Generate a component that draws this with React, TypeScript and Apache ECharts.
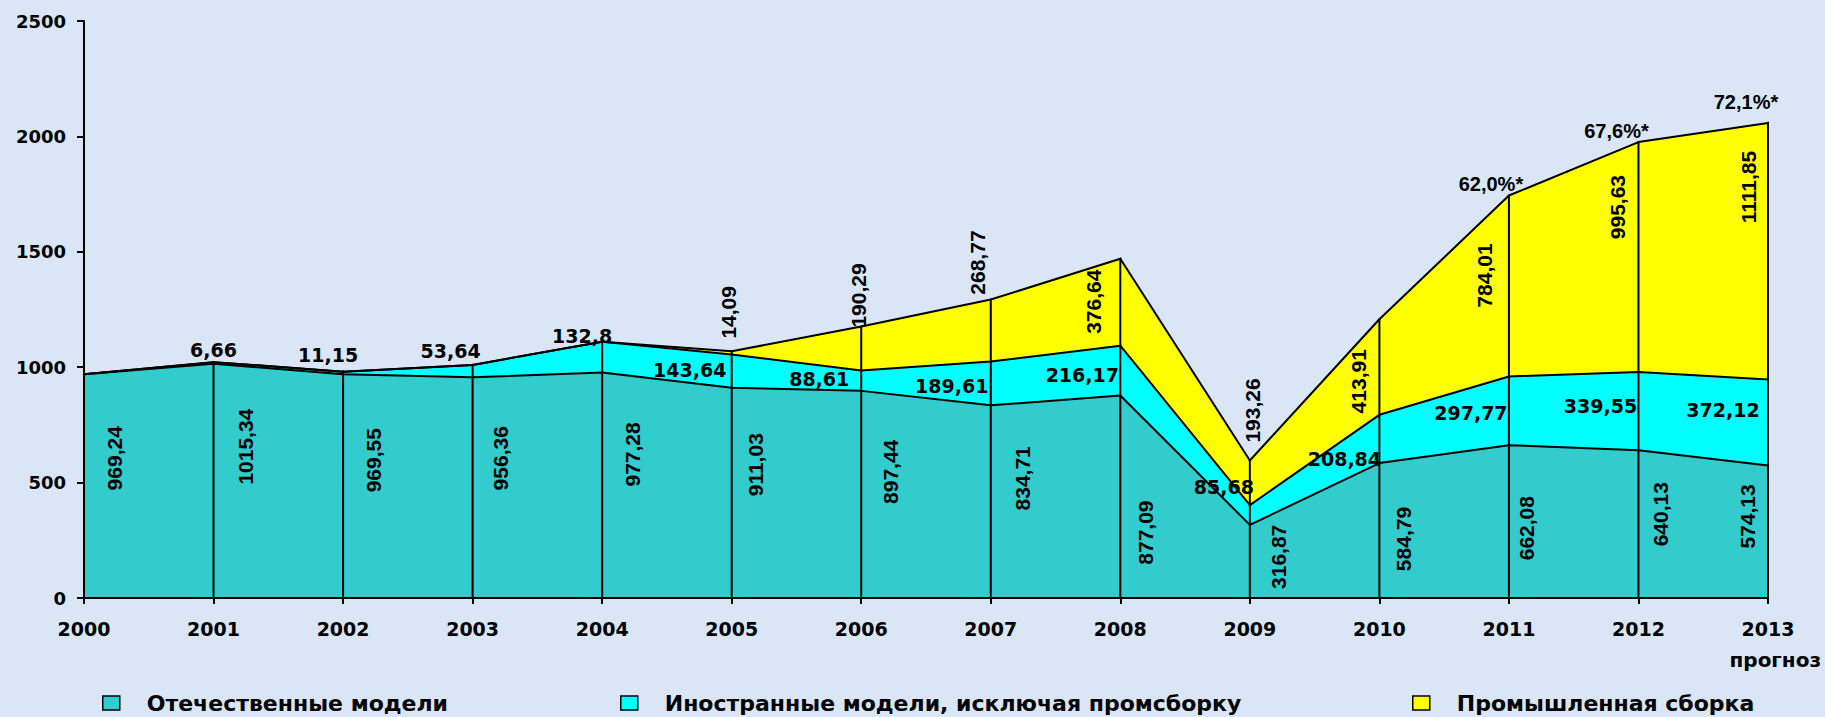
import React, { useEffect, useRef } from 'react';
import * as echarts from 'echarts';

// ---------- data ----------
const years = ['2000', '2001', '2002', '2003', '2004', '2005', '2006', '2007', '2008', '2009', '2010', '2011', '2012', '2013'];
const domestic = [969.24, 1015.34, 969.55, 956.36, 977.28, 911.03, 897.44, 834.71, 877.09, 316.87, 584.79, 662.08, 640.13, 574.13];
const foreign = [0, 6.66, 11.15, 53.64, 132.8, 143.64, 88.61, 189.61, 216.17, 85.68, 208.84, 297.77, 339.55, 372.12];
const assembly = [0, 0, 0, 0, 0, 14.09, 190.29, 268.77, 376.64, 193.26, 413.91, 784.01, 995.63, 1111.85];
const shares = ['', '', '', '', '', '', '', '', '', '', '', '62,0%*', '67,6%*', '72,1%*'];
const seriesNames = ['Отечественные модели', 'Иностранные модели, исключая промсборку', 'Промышленная сборка'];
const yMin = 0;
const yMax = 2500;
const yStep = 500;
const forecastNote = 'прогноз';

// ---------- styles / layout ----------
const fills = ['#33cccc', '#00ffff', '#ffff00'];
const legendLeft = [102, 620, 1412];
// visual label shifts in px relative to the data point [dx, dy]
const domesticShift = [[30, 84], [32, 83], [30, 86], [28, 81], [30, 82], [24, 77], [29, 81], [32, 73], [25, 137], [29, 32], [24, 76], [18, 83], [22, 64], [-21, 51]];
const foreignShift = [[0, 0], [0, -12], [-15, -17], [-22, -14], [-20, -6], [-42, 15], [-42, 9], [-39, 24], [-38, 29], [-26, -18], [-35, 44], [-38, 37], [-38, 34], [-45, 30]];
const assemblyShift = [[0, 0], [0, 0], [0, 0], [0, 0], [0, 0], [-3, -39], [-3, -31], [-13, -37], [-27, 43], [3, -50], [-21, 62], [-24, 80], [-21, 65], [-20, 64]];
const shareShift = [[0, 0], [0, 0], [0, 0], [0, 0], [0, 0], [0, 0], [0, 0], [0, 0], [0, 0], [0, 0], [0, 0], [-18, -12], [-22, -11], [-22, -21]];

const WIDE = '"DejaVu Sans", sans-serif';
const ARIAL = '"Liberation Sans", Arial, sans-serif';

const fmt = (v: number) => String(v).replace('.', ',');
// offset for labels rotated by 90deg (offset is rotated together with the text)
const rotOffset = (s: number[]) => [-s[1], s[0]];

function App() {
  const ref = useRef<HTMLDivElement>(null);

  useEffect(() => {
    document.body.style.margin = '0';
    const chart = echarts.init(ref.current!, null, { renderer: 'svg' });

    const totals = years.map((_, i) => domestic[i] + foreign[i] + assembly[i]);

    const commonLine = {
      type: 'line',
      stack: 'total',
      symbol: 'circle',
      symbolSize: 2,
      showSymbol: true,
      itemStyle: { color: '#000' },
      lineStyle: { color: '#000', width: 2 },
      silent: true,
      z: 2,
    };

    const option: any = {
      animation: false,
      backgroundColor: '#dae6f6',
      grid: { left: 84, right: 57, top: 21, bottom: 119, containLabel: false },
      xAxis: {
        type: 'category',
        data: years,
        boundaryGap: false,
        axisLine: { lineStyle: { color: '#000', width: 2 } },
        axisTick: { show: true, length: 6, lineStyle: { color: '#000', width: 2 } },
        axisLabel: { color: '#000', fontFamily: WIDE, fontWeight: 'bold', fontSize: 19, margin: 21 },
        splitLine: { show: false },
        z: 5,
      },
      yAxis: {
        type: 'value',
        min: yMin,
        max: yMax,
        interval: yStep,
        axisLine: { show: true, lineStyle: { color: '#000', width: 2 } },
        axisTick: { show: true, length: 7, lineStyle: { color: '#000', width: 2 } },
        axisLabel: {
          color: '#000',
          fontFamily: WIDE,
          fontWeight: 'bold',
          fontSize: 18,
          margin: 18,
          formatter: (v: number) => String(v),
        },
        splitLine: { show: false },
        z: 5,
      },
      legend: seriesNames.map((name, i) => ({
        data: [{ name, itemStyle: { color: fills[i], borderColor: '#000', borderWidth: 1.5 } }],
        icon: 'rect',
        left: legendLeft[i],
        top: 692,
        padding: 0,
        itemWidth: 17,
        itemHeight: 14,
        selectedMode: false,
        textStyle: { color: '#000', fontFamily: WIDE, fontWeight: 'bold', fontSize: 22, padding: [0, 0, 0, 22] },
      })),
      graphic: [
        {
          type: 'text',
          right: 4,
          top: 650,
          style: { text: forecastNote, fill: '#000', font: `bold 20px ${WIDE}` },
        },
      ],
      series: [
        {
          ...commonLine,
          name: seriesNames[0],
          areaStyle: { color: fills[0], opacity: 1 },
          data: domestic.map((v, i) => ({
            value: v,
            label: { show: v > 0, offset: rotOffset(domesticShift[i]) },
          })),
          label: {
            position: 'inside',
            rotate: 90,
            color: '#000',
            fontFamily: ARIAL,
            fontWeight: 'bold',
            fontSize: 21,
            formatter: (p: any) => fmt(p.value),
          },
        },
        {
          ...commonLine,
          name: seriesNames[1],
          areaStyle: { color: fills[1], opacity: 1 },
          data: foreign.map((v, i) => ({
            value: v,
            label: { show: v > 0, offset: foreignShift[i] },
          })),
          label: {
            position: 'inside',
            color: '#000',
            fontFamily: WIDE,
            fontWeight: 'bold',
            fontSize: 19,
            formatter: (p: any) => fmt(p.value),
          },
        },
        {
          ...commonLine,
          name: seriesNames[2],
          areaStyle: { color: fills[2], opacity: 1 },
          data: assembly.map((v, i) => ({
            value: v,
            label: { show: v > 0, offset: rotOffset(assemblyShift[i]) },
          })),
          label: {
            position: 'inside',
            rotate: 90,
            color: '#000',
            fontFamily: ARIAL,
            fontWeight: 'bold',
            fontSize: 21,
            formatter: (p: any) => fmt(p.value),
          },
        },
        {
          ...commonLine,
          name: 'share',
          lineStyle: { width: 0, opacity: 0 },
          data: shares.map((s, i) => ({
            value: 0,
            label: { show: s !== '', offset: shareShift[i] },
          })),
          label: {
            position: 'inside',
            color: '#000',
            fontFamily: ARIAL,
            fontWeight: 'bold',
            fontSize: 20,
            formatter: (p: any) => shares[p.dataIndex],
          },
        },
        {
          name: 'drop',
          type: 'bar',
          data: totals,
          barWidth: 2,
          barMinWidth: 2,
          clip: false,
          silent: true,
          z: 3,
          itemStyle: { color: '#000', opacity: 1 },
        },
      ],
    };

    chart.setOption(option);
    return () => chart.dispose();
  }, []);

  return <div ref={ref} style={{ width: 1825, height: 717 }} />;
}

export default App;
